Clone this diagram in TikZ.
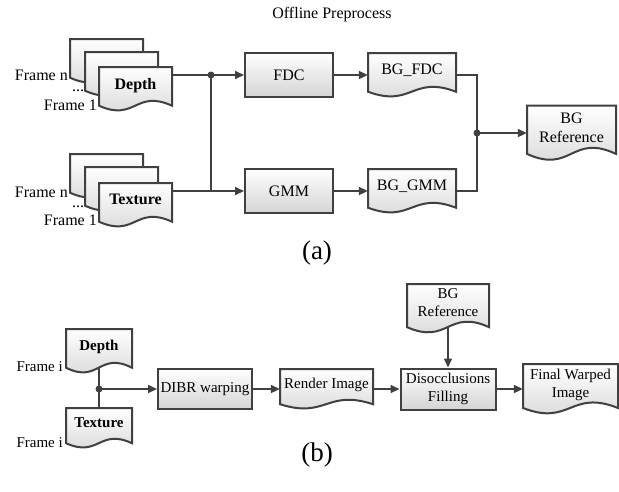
\documentclass[tikz,border=0pt]{standalone}
\usepackage{fontspec}
\setmainfont{Liberation Serif}
\usetikzlibrary{arrows.meta, positioning, calc}
\definecolor{linegray}{RGB}{64,64,64}
\definecolor{fillgray}{RGB}{212,212,212}
\newcommand{\docshape}[5]{%
  \draw[docbody] ($(#2)+(-#3/2,-#4/2)$) -- ($(#2)+(#3/2,-#4/2)$) -- ($(#2)+(#3/2,0.38*#4)$)
    .. controls ($(#2)+(0,0)$) and ($(#2)+(0,0.75*#4)$) .. ($(#2)+(-#3/2,0.38*#4)$) -- cycle;
  \node[doctext, minimum width=#3, minimum height=#4] (#1) at (#2) {#5};}

\begin{document}
\begin{tikzpicture}[x=1pt, y=-1pt, >={Triangle[length=9pt, width=8pt]},
  line/.style={draw=linegray, line width=2pt},
  flow/.style={line, ->},
  proc/.style={rectangle, draw=linegray, line width=2pt, top color=white, bottom color=fillgray,
    minimum width=88pt, minimum height=44pt, inner sep=0pt, align=center},
  docbody/.style={draw=linegray, line width=2pt, top color=white, bottom color=fillgray},
  doctext/.style={inner sep=0pt, align=center, text depth=11pt},
  dot/.style={circle, fill=linegray, inner sep=0pt, minimum size=7pt},
  lbl/.style={inner sep=0pt}]
  \useasboundingbox (0,0) rectangle (619,491);
  \node[font=\fontsize{16}{19}\selectfont] (title) at (332,15) {Offline Preprocess};

  \begin{scope}[font=\fontsize{16}{19.5}\selectfont]
  \docshape{depth3}{106.5,61}{73}{44}{}
  \docshape{depth2}{121.5,74}{73}{44}{}
  \docshape{depth}{135.5,89}{73}{44}{\textbf{Depth}}
  \node[lbl, anchor=east] (depthn) at (68,75) {Frame n};
  \node[lbl] (depthdots) at (78,91) {...};
  \node[lbl, anchor=east] (depth1) at (97,105) {Frame 1};

  \docshape{texture3}{106.5,176}{73}{44}{}
  \docshape{texture2}{121.5,189}{73}{44}{}
  \docshape{texture}{135.5,205}{73}{44}{\textbf{Texture}}
  \node[lbl, anchor=east] (texturen) at (68,192) {Frame n};
  \node[lbl] (texturedots) at (78,207) {...};
  \node[lbl, anchor=east] (texture1) at (97,220) {Frame 1};

  \node[proc] (fdc) at (289,75) {FDC};
  \node[proc] (gmm) at (289,191) {GMM};
  \docshape{bgfdc}{412,75}{88}{44}{BG\_FDC}
  \docshape{bggmm}{412,191}{88}{44}{BG\_GMM}
  \docshape{bgref}{571.5,133}{89}{55}{BG\\Reference}

  \coordinate (ja) at (211,75);
  \coordinate (jb) at (477,133);
  \draw[line] (depth.east |- fdc) -- (ja);
  \draw[flow] (ja) -- (fdc);
  \draw[line] (texture.east |- gmm) -- (gmm -| ja);
  \draw[flow] (ja) |- (gmm);
  \node[dot] (jadot) at (ja) {};
  \draw[flow] (fdc) -- (bgfdc);
  \draw[flow] (gmm) -- (bggmm);
  \draw[line] (bgfdc) -| (jb);
  \draw[line] (bggmm) -| (jb);
  \node[dot] (jbdot) at (jb) {};
  \draw[flow] (jb) -- (bgref);
  \end{scope}
  \node[font=\fontsize{27}{30}\selectfont] (capa) at (317,253) {(a)};

  \begin{scope}[font=\fontsize{15}{18}\selectfont]
  \docshape{depthb}{99,351}{66}{44}{\textbf{Depth}}
  \docshape{textureb}{99,428}{66}{40}{\textbf{Texture}}
  \node[lbl, anchor=east] (framed) at (63,367) {Frame i};
  \node[lbl, anchor=east] (framet) at (63,443) {Frame i};
  \node[proc, minimum width=94pt, minimum height=40pt] (dibr) at (205,389) {DIBR warping};
  \docshape{render}{326.5,389}{93}{40}{Render Image}
  \node[proc, minimum width=95pt, minimum height=41pt] (disocc) at (448,389) {Disocclusions\\Filling};
  \docshape{bgrefb}{448,308.5}{82}{49}{BG\\Reference}
  \docshape{final}{570.5,389}{95}{50}{Final Warped\\Image}

  \coordinate (jc) at (99,389);
  \draw[line] ([yshift=5.5pt]depthb.south) -- (textureb.north);
  \node[dot] (jcdot) at (jc) {};
  \draw[flow] (jc) -- (dibr);
  \draw[flow] (dibr) -- (render);
  \draw[flow] (render) -- (disocc);
  \draw[flow] (disocc) -- (final);
  \draw[flow] ([yshift=6pt]bgrefb.south) -- (disocc);
  \end{scope}
  \node[font=\fontsize{27}{30}\selectfont] (capb) at (317,455) {(b)};
\end{tikzpicture}
\end{document}
